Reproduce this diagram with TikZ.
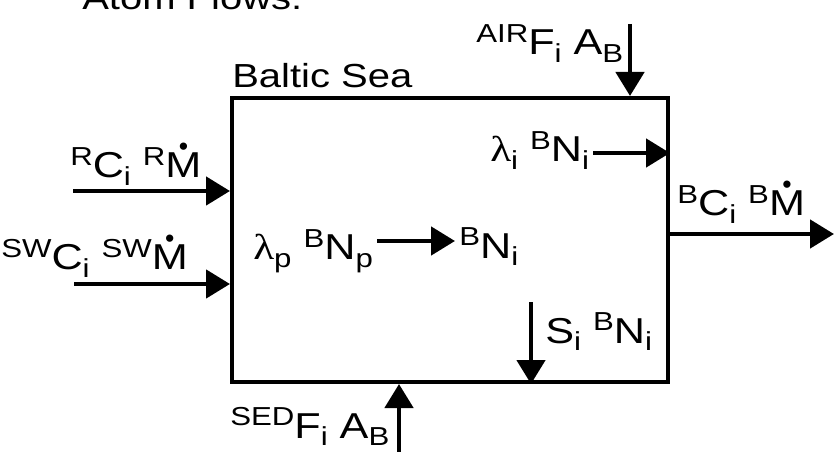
\documentclass[tikz,border=0pt]{standalone}
\usepackage{fontspec}
\setmainfont[FakeStretch=1.2]{Liberation Sans}
\newfontfamily\greekfont[FakeStretch=1.2]{Liberation Serif}
\newfontfamily\dotfont{Liberation Sans}
\usetikzlibrary{arrows.meta}
\newcommand{\hsup}[1]{\raisebox{9.5pt}{\fontsize{19.5}{19.5}\selectfont #1}}
\newcommand{\hsub}[1]{\raisebox{-5.5pt}{\fontsize{19.5}{19.5}\selectfont #1}}
\newcommand{\lam}{{\greekfont λ}}
\newcommand{\mdot}{\setbox0\hbox{M}\rlap{M}\hbox to\wd0{\hss\raisebox{17pt}{\dotfont\fontsize{20}{20}\selectfont •}\hss}}

\begin{document}
\begin{tikzpicture}[x=0.75pt,y=-0.75pt,>={Triangle[length=18pt,width=21pt]},
  sea/.style={draw,line width=3pt,minimum width=327pt,minimum height=213pt,inner sep=0pt},
  lbl/.style={anchor=base west,inner sep=0pt,font=\fontsize{27}{27}\selectfont},
  title/.style={anchor=base west,inner sep=0pt,font=\fontsize{25}{25}\selectfont},
  flow/.style={->,line width=3.5pt}]
\useasboundingbox[fill=white] (0,0) rectangle (835,452);
\node[sea] (bs) at (450,240) {};
\node[title] (hdr) at (82,10) {Atom Flows:};
\node[title] (name) at (232,88) {Baltic Sea};
% deposition from the air
\coordinate (airtop) at (630,24);
\draw[flow] (airtop) -- (airtop |- bs.north);
\node[lbl] (air) at (476,55) {\hsup{AIR}F\hsub{i} A\hsub{B}};
% rivers and sea water inflow
\coordinate (rin) at (73,191);
\draw[flow] (rin) -- (rin -| bs.west);
\node[lbl] (riv) at (70,178) {\hsup{R}C\hsub{i} \hsup{R}\mdot};
\coordinate (swin) at (74,284);
\draw[flow] (swin) -- (swin -| bs.west);
\node[lbl] (sw) at (1,270) {\hsup{SW}C\hsub{i} \hsup{SW}\mdot};
% parent decay
\node[lbl] (prod) at (253,260) {\lam\hsub{p} \hsup{B}N\hsub{p}};
\node[lbl] (bni) at (459,258) {\hsup{B}N\hsub{i}};
\coordinate (pmid) at (0,241);
\draw[flow,shorten <=3pt,shorten >=3pt] (prod.east |- pmid) -- (bni.west |- pmid);
\node[lbl] (decay) at (490,162) {\lam\hsub{i} \hsup{B}N\hsub{i}};
\coordinate (dmid) at (0,153);
\draw[flow,shorten <=3pt] (decay.east |- dmid) -- (bs.east |- dmid);
% outflow
\coordinate (outend) at (834,234);
\draw[flow] (outend -| bs.east) -- (outend);
\node[lbl] (out) at (677,216) {\hsup{B}C\hsub{i} \hsup{B}\mdot};
% settling and sediment release
\coordinate (settop) at (531,302);
\draw[flow] (settop) -- (settop |- bs.south);
\node[lbl] (sett) at (545,343) {S\hsub{i} \hsup{B}N\hsub{i}};
\coordinate (sedbot) at (399,454);
\draw[flow] (sedbot) -- (sedbot |- bs.south);
\node[lbl] (sed) at (230,438) {\hsup{SED}F\hsub{i} A\hsub{B}};
\end{tikzpicture}
\end{document}
